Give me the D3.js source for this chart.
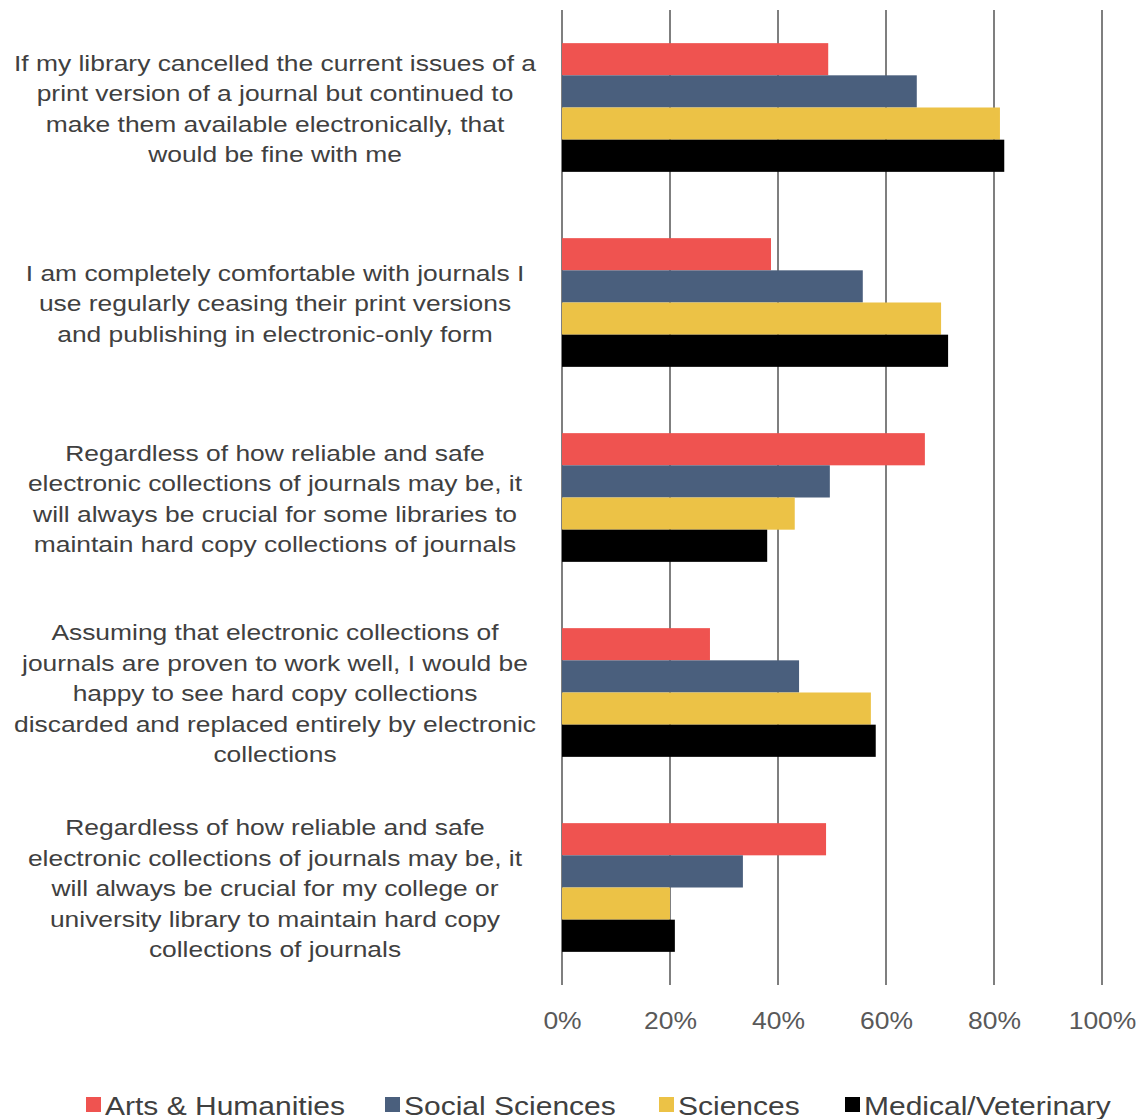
<!DOCTYPE html>
<html>
<head>
<meta charset="utf-8">
<script src="https://cdn.jsdelivr.net/npm/d3@7"></script>
<style>
  body { margin: 0; background: #fff; }
  text { font-family: "Liberation Sans", Arial, sans-serif; }
</style>
</head>
<body>
<svg id="chart" width="1142" height="1119"></svg>
<script>
'use strict';

// question text, one array of lines per question
let questions = [
    ["If my library cancelled the current issues of a", "print version of a journal but continued to", "make them available electronically, that", "would be fine with me"],
    ["I am completely comfortable with journals I", "use regularly ceasing their print versions", "and publishing in electronic-only form"],
    ["Regardless of how reliable and safe", "electronic collections of journals may be, it", "will always be crucial for some libraries to", "maintain hard copy collections of journals"],
    ["Assuming that electronic collections of", "journals are proven to work well, I would be", "happy to see hard copy collections", "discarded and replaced entirely by electronic", "collections"],
    ["Regardless of how reliable and safe", "electronic collections of journals may be, it", "will always be crucial for my college or", "university library to maintain hard copy", "collections of journals"]
];

let groups = ["Arts & Humanities", "Social Sciences", "Sciences", "Medical/Veterinary"];
let colors = ["#EF5350", "#4A5F7D", "#ECC246", "#000000"];

// percent agreeing, per question, in the order of groups
let artsHum = [49.3, 38.7, 67.2, 27.4, 48.9];
let socSci = [65.7, 55.7, 49.6, 43.9, 33.5];
let sciences = [81.1, 70.2, 43.1, 57.2, 20.0];
let medVet = [81.9, 71.5, 38.0, 58.1, 20.9];

let ticks = [0, 20, 40, 60, 80, 100];

let series = [artsHum, socSci, sciences, medVet];

function drawChart() {
    let svg = d3.select("#chart");
    let left = 562, right = 1102, top = 10, bottom = 985;

    let xScale = d3.scaleLinear().domain([0, 100]).range([left, right]);
    let yScale = d3.scaleBand()
        .domain(questions.map((d, i) => i))
        .range([top, bottom])
        .paddingInner(0.34)
        .paddingOuter(0.17);
    let subScale = d3.scaleBand()
        .domain(groups)
        .range([0, yScale.bandwidth()]);

    // grid
    svg.append("g").selectAll("line")
        .data(ticks)
        .enter().append("line")
        .attr("x1", d => xScale(d))
        .attr("x2", d => xScale(d))
        .attr("y1", top)
        .attr("y2", bottom)
        .style("stroke", "#7f7f7f")
        .style("stroke-width", 2);

    // bars
    let rows = [];
    questions.forEach((q, i) => {
        groups.forEach((g, j) => rows.push({ q: i, g: g, j: j, v: series[j][i] }));
    });

    svg.append("g").selectAll("rect")
        .data(rows)
        .enter().append("rect")
        .attr("x", xScale(0))
        .attr("y", d => yScale(d.q) + subScale(d.g))
        .attr("width", d => xScale(d.v) - xScale(0))
        .attr("height", subScale.bandwidth())
        .attr("fill", d => colors[d.j]);

    // x tick labels (text in the original is a bit stretched)
    let xAxis = d3.axisBottom(xScale)
        .tickValues(ticks)
        .tickSize(0)
        .tickPadding(0)
        .tickFormat(d => d + "%");
    let ax = svg.append("g")
        .attr("transform", "translate(0,1029)")
        .call(xAxis);
    ax.select(".domain").remove();
    ax.selectAll("text")
        .attr("dy", 0)
        .attr("transform", "scale(1.15,1)")
        .style("font-size", "23px")
        .style("fill", "#595959");

    // question labels
    let lineH = 30.5;
    questions.forEach((lines, i) => {
        let cy = yScale(i) + yScale.bandwidth() / 2;
        let t = svg.append("text")
            .attr("text-anchor", "middle")
            .attr("transform", "translate(275,0) scale(1.2,1)")
            .style("font-size", "22px")
            .style("fill", "#404040");
        lines.forEach((l, k) => {
            t.append("tspan")
                .attr("x", 0)
                .attr("y", cy + (k - (lines.length - 1) / 2) * lineH + 9)
                .text(l);
        });
    });

    // legend
    let legendX = [86, 385, 659, 845];
    let legend = svg.append("g").selectAll("g")
        .data(groups)
        .enter().append("g")
        .attr("transform", (d, i) => "translate(" + legendX[i] + ",1105)");
    legend.append("rect")
        .attr("x", 0)
        .attr("y", -8)
        .attr("width", 15)
        .attr("height", 15)
        .attr("fill", (d, i) => colors[i]);
    legend.append("text")
        .attr("transform", "translate(19,10) scale(1.2,1)")
        .style("font-size", "25px")
        .style("fill", "#404040")
        .text(d => d);
}

drawChart();
</script>
</body>
</html>
